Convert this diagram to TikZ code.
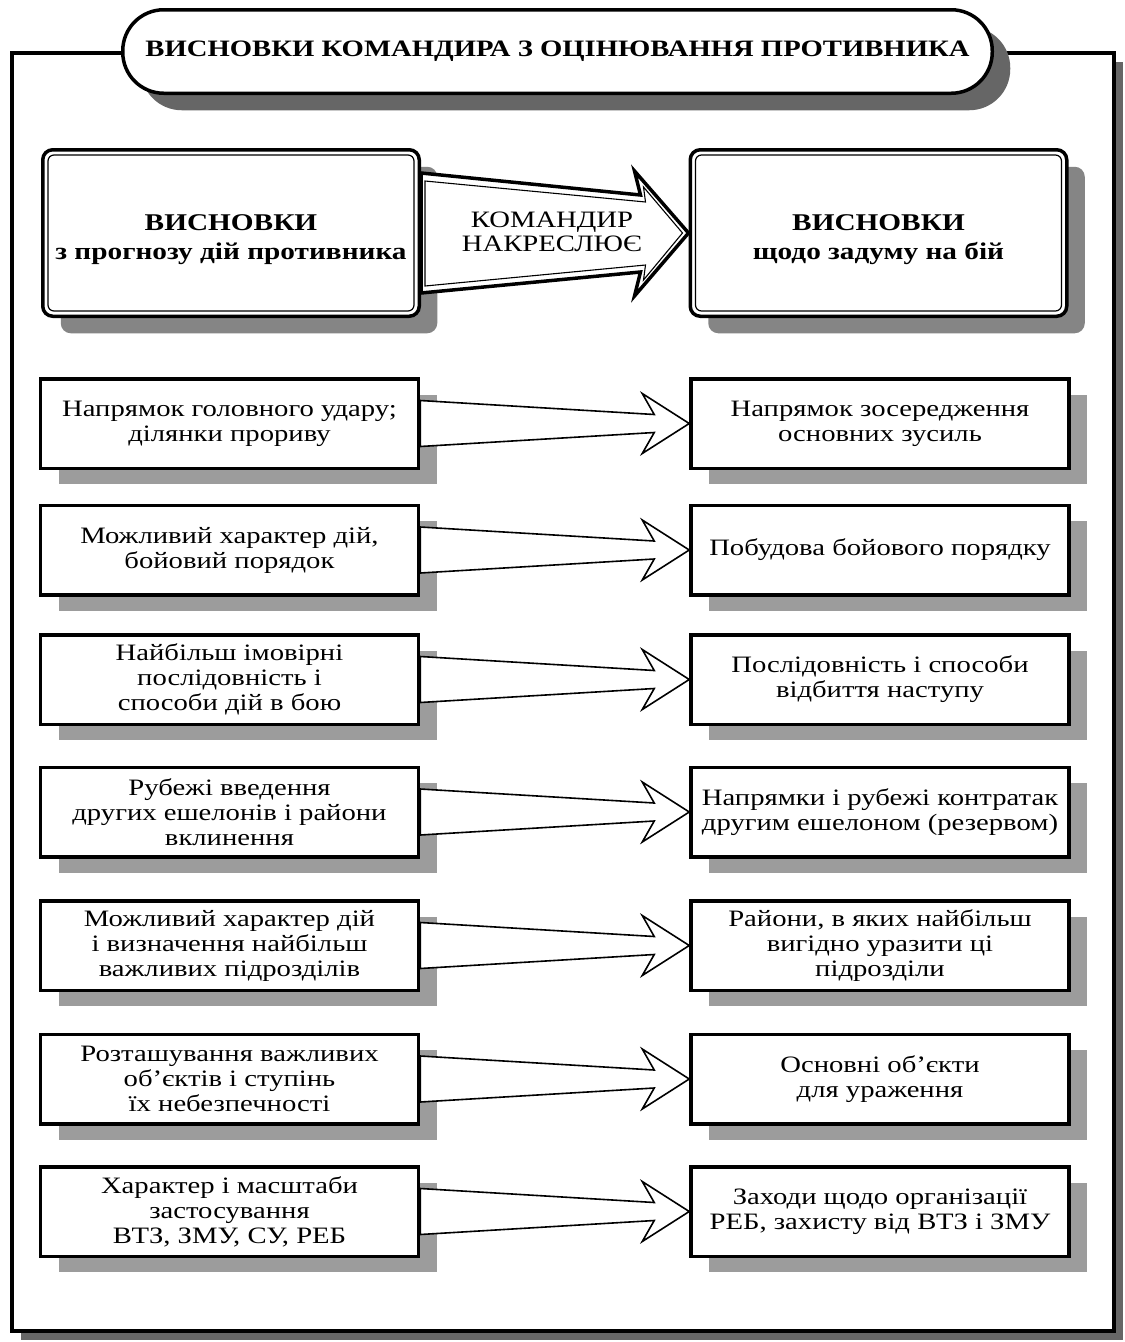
\documentclass[tikz,border=0pt]{standalone}
\usepackage{fontspec}
\setmainfont{Liberation Serif}[FakeStretch=1.22]
\usetikzlibrary{calc,shadows}
\definecolor{darksh}{HTML}{666666}
\definecolor{topsh}{HTML}{858585}
\definecolor{boxsh}{HTML}{9C9C9C}
\newcommand\rowarrow[2]{\draw[rowarr] ($(#1.east)+(0,-23)$) -- ($(#2.west)+(-35,-9)$) -- ($(#2.west)+(-47,-30)$) -- (#2.west) -- ($(#2.west)+(-47,30)$) -- ($(#2.west)+(-35,9)$) -- ($(#1.east)+(0,23)$) -- cycle;}
\newcommand\innerframe[1]{\draw[line width=1.2pt, rounded corners=6pt] ([shift={(7,7)}]#1.north west) rectangle ([shift={(-7,-7)}]#1.south east);}
\begin{document}
\begin{tikzpicture}[x=1pt,y=-1pt,
  titlebox/.style={draw, line width=3.5pt, fill=white, rounded corners=41pt,
    minimum width=869.5pt, minimum height=83.5pt, inner sep=0pt,
    font=\bfseries\fontsize{23.5}{26}\selectfont,
    drop shadow={shadow xshift=18pt, shadow yshift=-17pt, opacity=1, fill=darksh}},
  topbox/.style={draw, line width=3.5pt, fill=white, rounded corners=10pt,
    minimum width=376.5pt, minimum height=166.5pt, inner sep=0pt,
    drop shadow={shadow xshift=18pt, shadow yshift=-17pt, opacity=1, fill=topsh}},
  toptext/.style={align=center, inner sep=0pt,
    font=\bfseries\fontsize{24}{29}\selectfont},
  rowbox/.style={draw, line width=3.5pt, fill=white,
    minimum width=378pt, minimum height=89.5pt, align=center, inner sep=2pt,
    font=\fontsize{23.5}{25}\selectfont,
    drop shadow={shadow xshift=18pt, shadow yshift=-16pt, opacity=1, fill=boxsh}},
  rowarr/.style={draw, line width=1.6pt, fill=white, line join=miter},
  bigarr/.style={draw, line width=3.5pt, fill=white, line join=miter},
  bigarrin/.style={draw, line width=1.1pt, line join=miter},
  arrtext/.style={align=center, inner sep=0pt, font=\fontsize{23.5}{24.5}\selectfont}
]
\useasboundingbox (0,0) rectangle (1125,1342);
% outer frame
\fill[darksh] (21,62) rectangle (1123,1340);
\draw[line width=3.5pt, fill=white] (12,53) rectangle (1114,1331);
% title
\node[titlebox] (title) at (557.5,51.5) {ВИСНОВКИ КОМАНДИРА З ОЦІНЮВАННЯ ПРОТИВНИКА};
% top boxes
\node[topbox] (L0) at (231,233) {};
\node[topbox] (R0) at (878.5,233) {};
\innerframe{L0}
\innerframe{R0}
\node[toptext] (L0t) at (231,240) {ВИСНОВКИ\\з прогнозу дій противника};
\node[toptext] (R0t) at (878.5,240) {ВИСНОВКИ\\щодо задуму на бій};
% big arrow
\draw[bigarr] ($(L0.east)+(0,-60)$) -- ($(R0.west)+(-48,-38)$) -- ($(R0.west)+(-54,-62)$) -- (R0.west) -- ($(R0.west)+(-54,63)$) -- ($(R0.west)+(-48,39)$) -- ($(L0.east)+(0,60)$) -- cycle;
\draw[bigarrin] ($(L0.east)+(4,-52)$) -- ($(R0.west)+(-43,-31)$) -- ($(R0.west)+(-45,-46)$) -- ($(R0.west)+(-6,0)$) -- ($(R0.west)+(-45,47)$) -- ($(R0.west)+(-43,32)$) -- ($(L0.east)+(4,53)$) -- cycle;
\node[arrtext] (cmd) at (552,232) {КОМАНДИР\\НАКРЕСЛЮЄ};
% rows
\node[rowbox] (L1) at (229.5,423.5) {Напрямок головного удару;\\ділянки прориву};
\node[rowbox] (R1) at (880,423.5) {Напрямок зосередження\\основних зусиль};
\node[rowbox] (L2) at (229.5,550) {Можливий характер дій,\\бойовий порядок};
\node[rowbox] (R2) at (880,550) {Побудова бойового порядку};
\node[rowbox] (L3) at (229.5,679.5) {Найбільш імовірні\\послідовність і\\способи дій в бою};
\node[rowbox] (R3) at (880,679.5) {Послідовність і способи\\відбиття наступу};
\node[rowbox] (L4) at (229.5,812) {Рубежі введення\\других ешелонів і райони\\вклинення};
\node[rowbox] (R4) at (880,812) {Напрямки і рубежі контратак\\другим ешелоном (резервом)};
\node[rowbox] (L5) at (229.5,945.5) {Можливий характер дій\\і визначення найбільш\\важливих підрозділів};
\node[rowbox] (R5) at (880,945.5) {Райони, в яких найбільш\\вигідно уразити ці\\підрозділи};
\node[rowbox] (L6) at (229.5,1079) {Розташування важливих\\об’єктів і ступінь\\їх небезпечності};
\node[rowbox] (R6) at (880,1079) {Основні об’єкти\\для ураження};
\node[rowbox] (L7) at (229.5,1211.5) {Характер і масштаби\\застосування\\ВТЗ, ЗМУ, СУ, РЕБ};
\node[rowbox] (R7) at (880,1211.5) {Заходи щодо організації\\РЕБ, захисту від ВТЗ і ЗМУ};
\rowarrow{L1}{R1}
\rowarrow{L2}{R2}
\rowarrow{L3}{R3}
\rowarrow{L4}{R4}
\rowarrow{L5}{R5}
\rowarrow{L6}{R6}
\rowarrow{L7}{R7}
\end{tikzpicture}
\end{document}
